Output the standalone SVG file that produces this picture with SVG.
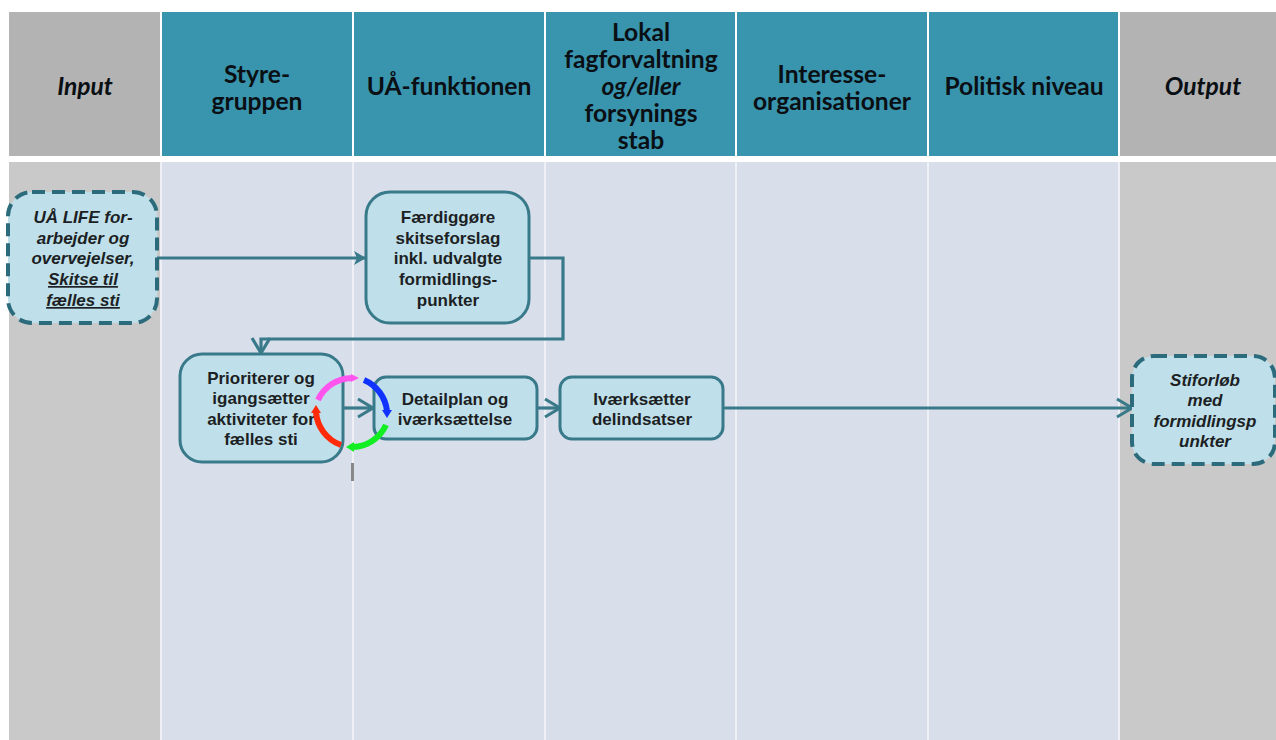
<svg xmlns="http://www.w3.org/2000/svg" width="1276" height="740" viewBox="0 0 1276 740">
<style>
.h{font-family:"Lato","Liberation Sans",sans-serif;font-weight:700;font-size:24.6px;fill:#0a0f14;text-anchor:middle}
.t{font-family:"Liberation Sans",Arial,sans-serif;font-weight:700;font-size:17px;fill:#1c1f24;text-anchor:middle}
.i{font-style:italic}
.n{fill:#bfe0ea;stroke:#397a8a;stroke-width:3}
.d{fill:#bfe0ea;stroke:#2b6b7c;stroke-width:4;stroke-dasharray:13 7}
.c{fill:none;stroke:#397a8a;stroke-width:3.2}
.r{fill:none;stroke-width:6}
.sep{fill:#eef0f5}
</style>
<defs>
<marker id="ah" markerUnits="userSpaceOnUse" markerWidth="14" markerHeight="16" refX="13" refY="8" orient="auto"><path d="M1 1L13 8L1 15L4 8Z" fill="#397a8a"/></marker>
<marker id="oh" markerUnits="userSpaceOnUse" markerWidth="20" markerHeight="22" refX="17" refY="11" orient="auto"><path d="M2 2L17 11L2 20" fill="none" stroke="#397a8a" stroke-width="3.2"/></marker>
</defs>
<rect width="1276" height="740" fill="#fff"/>
<g id="lanes">
<rect x="9" y="12" width="151" height="144" fill="#b3b3b3"/>
<rect x="162" y="12" width="190" height="144" fill="#3994ad"/>
<rect x="354" y="12" width="190" height="144" fill="#3994ad"/>
<rect x="546" y="12" width="189" height="144" fill="#3994ad"/>
<rect x="737" y="12" width="190" height="144" fill="#3994ad"/>
<rect x="929" y="12" width="189" height="144" fill="#3994ad"/>
<rect x="1120" y="12" width="156" height="144" fill="#b3b3b3"/>
<rect x="9" y="162" width="151" height="578" fill="#c9c9c9"/>
<rect x="162" y="162" width="190" height="578" fill="#d8dfeb"/>
<rect x="354" y="162" width="190" height="578" fill="#d8dfeb"/>
<rect x="546" y="162" width="189" height="578" fill="#d8dfeb"/>
<rect x="737" y="162" width="190" height="578" fill="#d8dfeb"/>
<rect x="929" y="162" width="189" height="578" fill="#d8dfeb"/>
<rect x="1120" y="162" width="156" height="578" fill="#c9c9c9"/>
<rect class="sep" x="160" y="162" width="2" height="578"/>
<rect class="sep" x="352" y="162" width="2" height="578"/>
<rect class="sep" x="544" y="162" width="2" height="578"/>
<rect class="sep" x="735" y="162" width="2" height="578"/>
<rect class="sep" x="927" y="162" width="2" height="578"/>
<rect class="sep" x="1118" y="162" width="2" height="578"/>
<text class="h i" x="85" y="95">Input</text>
<text class="h"><tspan x="257" y="83">Styre-</tspan><tspan x="257" y="110">gruppen</tspan></text>
<text class="h" x="449" y="95">UÅ-funktionen</text>
<text class="h"><tspan x="641" y="41">Lokal</tspan><tspan x="641" y="68">fagforvaltning</tspan><tspan x="641" y="95" class="i">og/eller</tspan><tspan x="641" y="122">forsynings</tspan><tspan x="641" y="149">stab</tspan></text>
<text class="h"><tspan x="832" y="83">Interesse-</tspan><tspan x="832" y="110">organisationer</tspan></text>
<text class="h" x="1024" y="95">Politisk niveau</text>
<text class="h i" x="1203" y="95">Output</text>
</g>
<g id="connectors">
<path class="c" marker-end="url(#ah)" d="M157 258H366"/>
<path class="c" marker-end="url(#oh)" d="M529 258H563V339H261V353"/>
<path class="c" marker-end="url(#oh)" d="M343 408H373"/>
<path class="c" marker-end="url(#oh)" d="M537 408H560"/>
<path class="c" marker-end="url(#oh)" d="M723 408H1132"/>
</g>
<g id="node-input"><rect class="d" x="8" y="192" width="149" height="131" rx="24"/>
<text class="t i"><tspan x="83" y="223">UÅ LIFE for-</tspan><tspan x="83" y="244">arbejder og</tspan><tspan x="83" y="264">overvejelser,</tspan><tspan x="83" y="285" text-decoration="underline">Skitse til</tspan><tspan x="83" y="306" text-decoration="underline">fælles sti</tspan></text></g>
<g id="node-faerdig"><rect class="n" x="366" y="192" width="163" height="131" rx="24"/>
<text class="t"><tspan x="448" y="223">Færdiggøre</tspan><tspan x="448" y="244">skitseforslag</tspan><tspan x="448" y="264">inkl. udvalgte</tspan><tspan x="448" y="285">formidlings-</tspan><tspan x="448" y="306">punkter</tspan></text></g>
<g id="node-prioriterer"><rect class="n" x="180" y="354" width="163" height="108" rx="22"/>
<text class="t"><tspan x="261" y="384">Prioriterer og</tspan><tspan x="261" y="404">igangsætter</tspan><tspan x="261" y="425">aktiviteter for</tspan><tspan x="261" y="445">fælles sti</tspan></text></g>
<g id="node-detail"><rect class="n" x="374" y="377" width="163" height="62" rx="12"/>
<text class="t"><tspan x="455" y="405">Detailplan og</tspan><tspan x="455" y="425">iværksættelse</tspan></text></g>
<g id="node-ivaerk"><rect class="n" x="560" y="377" width="163" height="62" rx="12"/>
<text class="t"><tspan x="642" y="405">Iværksætter</tspan><tspan x="642" y="425">delindsatser</tspan></text></g>
<g id="node-output"><rect class="d" x="1132" y="356" width="143" height="108" rx="22"/>
<text class="t i"><tspan x="1205" y="386">Stiforløb</tspan><tspan x="1205" y="406">med</tspan><tspan x="1205" y="427">formidlingsp</tspan><tspan x="1205" y="447">unkter</tspan></text></g>
<g id="cycle">
<path class="r" stroke="#ff55ee" d="M318 400A38 38 0 0 1 352 378"/><path d="M351 374L359 378L351 382Z" fill="#ff55ee"/>
<path class="r" stroke="#1133ff" d="M364 380A38 38 0 0 1 387 411"/><path d="M382 410L392 410L387 418Z" fill="#1133ff"/>
<path class="r" stroke="#11ee22" d="M386 425A38 38 0 0 1 353 447"/><path d="M354 442L346 447L354 452Z" fill="#11ee22"/>
<path class="r" stroke="#ff2a0a" d="M341 445A38 38 0 0 1 316 412"/><path d="M311 413L316 405L321 413Z" fill="#ff2a0a"/>
</g>
<rect x="351" y="463" width="3" height="18" fill="#888"/>
</svg>
